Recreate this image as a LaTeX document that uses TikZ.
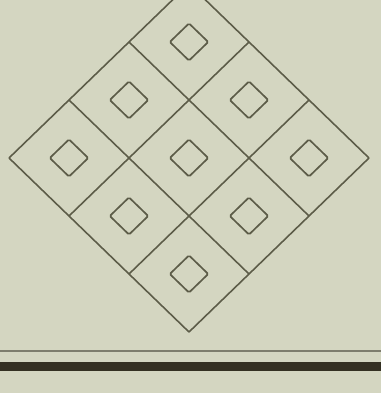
\documentclass[tikz,border=0pt]{standalone}
\usepackage{xcolor}
\usepackage{tikz}

\definecolor{paper}{RGB}{212,214,193}
\definecolor{ink}{RGB}{92,92,72}
\definecolor{rule}{RGB}{52,48,34}

\begin{document}
\begin{tikzpicture}[
  gridline/.style={draw=ink, line width=0.9pt, line join=round},
  smallsq/.style={draw=ink, line width=0.95pt, rounded corners=0.8pt},
  thinrule/.style={draw=ink!80, line width=1pt},
  thickrule/.style={draw=rule, line width=5.6pt},
]

  \fill[paper] (0,0) rectangle (7.62,7.86);
  \useasboundingbox (0,0) rectangle (7.62,7.86);

  % tilted 3x3 grid, origin at the left corner
  \begin{scope}[shift={(0.18,4.70)}, x={(1.2cm,-1.16cm)}, y={(1.2cm,1.16cm)}]
    \foreach \k in {0,1,2,3} {
      \draw[gridline] (\k,0) -- (\k,3);
      \draw[gridline] (0,\k) -- (3,\k);
    }
    \foreach \i in {0,1,2}
      \foreach \j in {0,1,2}
        \draw[smallsq] (\i+0.34,\j+0.34) -- (\i+0.66,\j+0.34) -- (\i+0.66,\j+0.66) -- (\i+0.34,\j+0.66) -- cycle;
  \end{scope}

  % double rule at the foot
  \coordinate (ruleA) at (0,0.84);
  \coordinate (ruleB) at (7.62,0.84);
  \coordinate (ruleC) at (0,0.53);
  \coordinate (ruleD) at (7.62,0.53);
  \draw[thinrule] (ruleA) -- (ruleB);
  \draw[thickrule] (ruleC) -- (ruleD);

\end{tikzpicture}
\end{document}
